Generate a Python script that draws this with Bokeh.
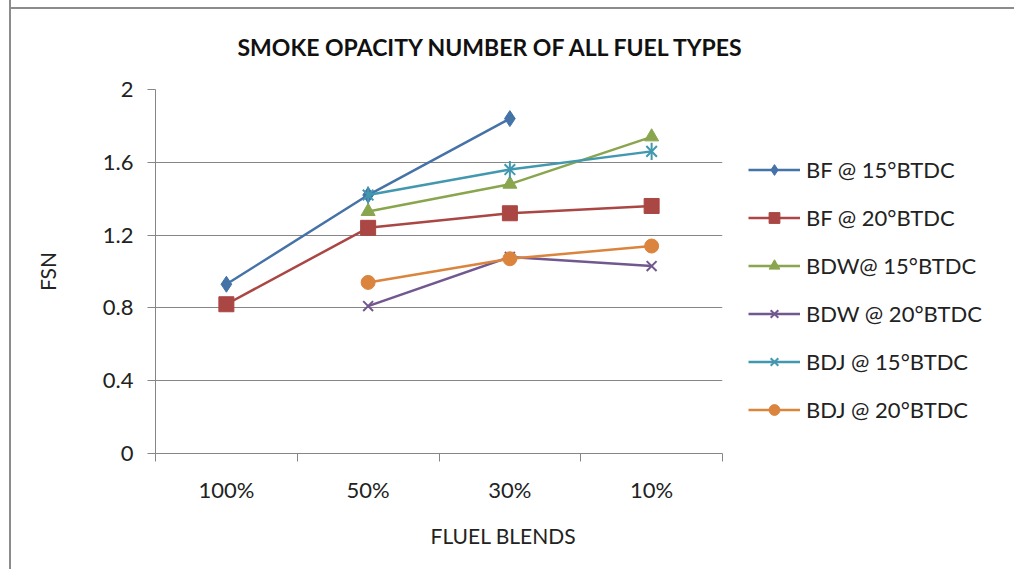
import math
from bokeh.plotting import figure
from bokeh.models import Range1d, FixedTicker, Title, Legend, LegendItem
from bokeh.embed import file_html
from bokeh.resources import INLINE

categories = ["100%", "50%", "30%", "10%"]
y_ticks = [0, 0.4, 0.8, 1.2, 1.6, 2]
y_tick_labels = ["0", "0.4", "0.8", "1.2", "1.6", "2"]

bf_15 = [0.93, 1.42, 1.84, None]
bf_20 = [0.82, 1.24, 1.32, 1.36]
bdw_15 = [None, 1.33, 1.48, 1.74]
bdw_20 = [None, 0.81, 1.08, 1.03]
bdj_15 = [None, 1.42, 1.56, 1.66]
bdj_20 = [None, 0.94, 1.07, 1.14]

series_names = ["BF @ 15°BTDC", "BF @ 20°BTDC", "BDW@ 15°BTDC",
                "BDW @ 20°BTDC", "BDJ @ 15°BTDC", "BDJ @ 20°BTDC"]
series_values = [bf_15, bf_20, bdw_15, bdw_20, bdj_15, bdj_20]
colors = ["#4572A7", "#AA4643", "#89A54E", "#71588F", "#4198AF", "#DB843D"]
markers = ["diamond", "square", "triangle", "x", "star6", "circle"]
sizes = [16, 15, 14, 14, 15, 14]

FONT = "Lato"
GRAY = "#868686"
TXT = "#222222"

x_pos = [i + 0.5 for i in range(len(categories))]

p = figure(frame_width=567, frame_height=364, output_backend="svg", toolbar_location=None,
           x_range=Range1d(0, len(categories)), y_range=Range1d(0, 2),
           min_border_left=144, min_border_right=292, min_border_top=89,
           min_border_bottom=116)
p.outline_line_color = None
p.background_fill_color = "white"
p.border_fill_alpha = 0
p.styles = {"margin-left": "9px", "margin-top": "0px",
            "border-left": "2px solid #8c8c8c",
            "background": "linear-gradient(#8c8c8c, #8c8c8c) 0px 7px / 100% 2px no-repeat, #ffffff"}

# x axis
xa = p.xaxis[0]
xa.ticker = FixedTicker(ticks=x_pos, minor_ticks=list(range(len(categories) + 1)))
xa.major_label_overrides = {x: c for x, c in zip(x_pos, categories)}
xa.major_tick_line_color = None
xa.major_tick_out = 0
xa.major_tick_in = 0
xa.minor_tick_out = 8
xa.minor_tick_in = 0
xa.minor_tick_line_color = GRAY
xa.axis_line_color = GRAY
xa.major_label_standoff = 14
xa.major_label_text_font = FONT
xa.major_label_text_font_size = "22px"
xa.major_label_text_color = TXT

# y axis
ya = p.yaxis[0]
ya.ticker = FixedTicker(ticks=y_ticks)
ya.major_label_overrides = {t: l for t, l in zip(y_ticks, y_tick_labels)}
ya.major_tick_out = 8
ya.major_tick_in = 0
ya.minor_tick_line_color = None
ya.major_tick_line_color = GRAY
ya.axis_line_color = GRAY
ya.major_label_standoff = 14
ya.major_label_text_font = FONT
ya.major_label_text_font_size = "22px"
ya.major_label_text_color = TXT
ya.axis_label = "FSN"
ya.axis_label_standoff = 40
ya.axis_label_text_font = FONT
ya.axis_label_text_font_size = "21px"
ya.axis_label_text_font_style = "normal"
ya.axis_label_text_color = TXT

p.xgrid.visible = False
p.ygrid.grid_line_color = GRAY
p.ygrid.grid_line_width = 1

items = []
for name, vals, col, mk, sz in zip(series_names, series_values, colors, markers, sizes):
    xs = [x for x, v in zip(x_pos, vals) if v is not None]
    ys = [v for v in vals if v is not None]
    ln = p.line(xs, ys, line_color=col, line_width=2.5)
    rends = [ln]
    if mk == "star6":
        s1 = p.scatter(xs, ys, marker="x", size=sz, line_color=col, line_width=2)
        s2 = p.scatter(xs, ys, marker="dash", angle=math.pi / 2, size=sz * 1.15,
                       line_color=col, line_width=2)
        rends += [s1, s2]
    elif mk == "x":
        s = p.scatter(xs, ys, marker="x", size=sz, line_color=col, line_width=2)
        rends.append(s)
    else:
        s = p.scatter(xs, ys, marker=mk, size=sz, fill_color=col, line_color=col)
        rends.append(s)
    items.append(LegendItem(label=name, renderers=rends))

legend = Legend(items=items, location="top_left", padding=0, margin=26,
                title=" ", title_text_font_size="20px", title_standoff=18,
                glyph_width=52, glyph_height=27, label_height=27, spacing=21,
                label_standoff=6, label_text_font=FONT,
                label_text_font_size="22px", label_text_color=TXT,
                border_line_color=None, background_fill_alpha=0)
p.add_layout(legend, "right")

p.add_layout(Title(text="SMOKE OPACITY NUMBER OF ALL FUEL TYPES", align="left",
                   offset=82, standoff=57, text_font=FONT, text_font_style="bold",
                   text_font_size="23px", text_color="#111111"), "above")

p.add_layout(Title(text="FLUEL BLENDS", align="left", offset=275, standoff=31,
                   text_font=FONT, text_font_style="normal", text_font_size="21px",
                   text_color=TXT), "below")

open("out.html", "w").write(file_html(p, INLINE))
